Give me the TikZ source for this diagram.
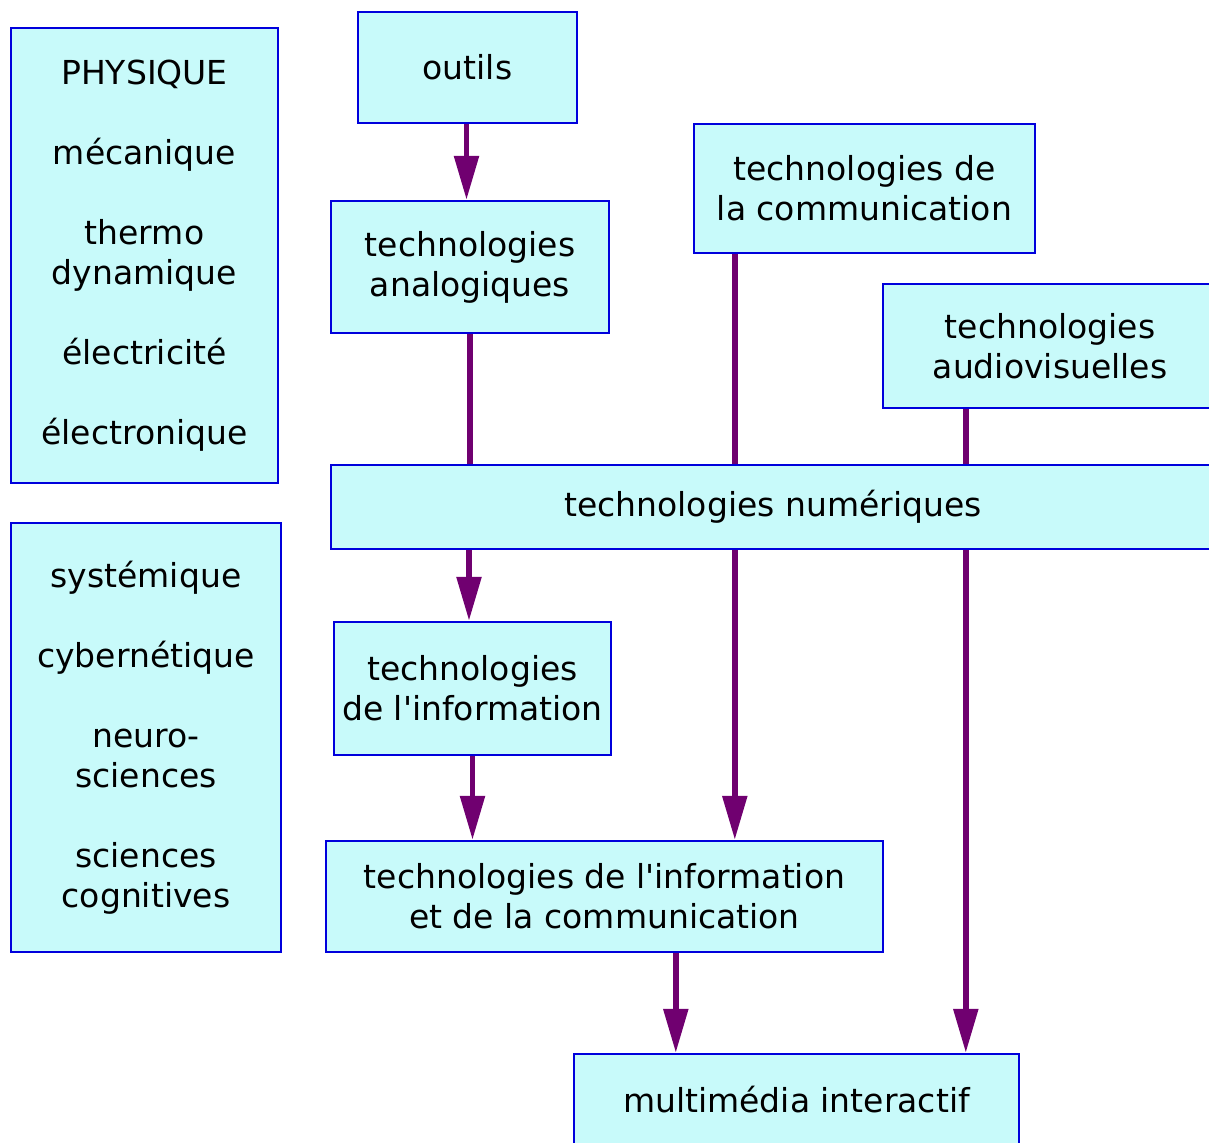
\documentclass[tikz,border=0pt]{standalone}
\usepackage{fontspec}
\setmainfont{DejaVu Sans}
\usepackage{tikz}
\usetikzlibrary{arrows.meta,positioning,calc}
\definecolor{boxblue}{RGB}{0,0,220}
\definecolor{boxfill}{RGB}{200,250,250}
\definecolor{linkpurple}{RGB}{112,0,112}

\begin{document}
\begin{tikzpicture}[
        x=0.5pt, y=-0.5pt,
        box/.style={rectangle, draw=boxblue, fill=boxfill, line width=1.2pt, align=center,
            font=\fontsize{16.5}{20}\selectfont, inner sep=0pt},
        link/.style={draw=linkpurple, line width=2.8pt},
        arrow/.style={link, -{Triangle[length=22pt,width=12pt]}}
    ]
    \clip (0,0) rectangle (1209,1143);
    \useasboundingbox (0,0) rectangle (1209,1143);
    % left column
    \node[box, minimum width=133.5pt, minimum height=227.5pt] (phys) at (144.5,255.5)
        {PHYSIQUE\\[20pt]mécanique\\[20pt]thermo\\dynamique\\[20pt]électricité\\[20pt]électronique};
    \node[box, minimum width=135pt, minimum height=214.5pt] (sci) at (146,737.5)
        {systémique\\[20pt]cybernétique\\[20pt]neuro-\\sciences\\[20pt]sciences\\cognitives};
    % technologies
    \node[box, minimum width=109.5pt, minimum height=55.5pt] (outils) at (467.5,67.5) {outils};
    \node[box, minimum width=139pt, minimum height=66pt] (analog) at (470,267) {technologies\\analogiques};
    \node[box, minimum width=170.5pt, minimum height=64.5pt] (comm) at (864.5,188.5) {technologies de\\la communication};
    \node[box, minimum width=167pt, minimum height=62pt] (audio) at (1050,346) {technologies\\audiovisuelles};
    \node[box, minimum width=442pt, minimum height=42pt] (num) at (773,507) {technologies numériques};
    \node[box, minimum width=138.5pt, minimum height=66.5pt] (info) at (472.5,688.5) {technologies\\de l\textquotesingle information};
    \node[box, minimum width=278.5pt, minimum height=55.5pt] (tic) at (604.5,896.5) {technologies de l\textquotesingle information\\et de la communication};
    \node[box, minimum width=222.5pt, minimum height=46pt] (multi) at (796.5,1100) {multimédia interactif};
    % connectors
    \draw[arrow] ([xshift=-0.5pt]outils.south) -- ([xshift=-0.5pt]outils.south |- analog.north);
    \draw[link] (analog.south) -- (analog.south |- num.north);
    \draw[link] ([xshift=21pt]comm.south west) -- ([xshift=21pt]comm.south west |- num.north);
    \draw[link] ([xshift=42pt]audio.south west) -- ([xshift=42pt]audio.south west |- num.north);
    \draw[arrow] ([xshift=-0.5pt]analog.south |- num.south) -- ([xshift=-0.5pt]analog.south |- info.north);
    \draw[arrow] ([xshift=21pt]comm.south west |- num.south) -- ([xshift=21pt]comm.south west |- tic.north);
    \draw[arrow] ([xshift=42pt]audio.south west |- num.south) -- ([xshift=42pt]audio.south west |- multi.north);
    \draw[arrow] (info.south) -- (info.south |- tic.north);
    \draw[arrow] ([xshift=51.5pt]multi.north west |- tic.south) -- ([xshift=51.5pt]multi.north west);
\end{tikzpicture}
\end{document}
